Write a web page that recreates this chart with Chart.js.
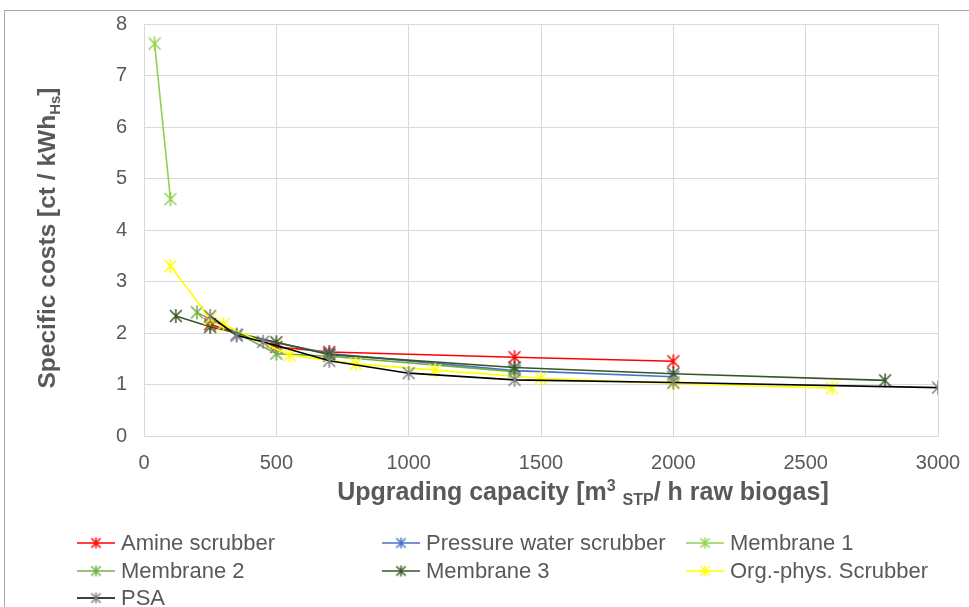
<!DOCTYPE html>
<html>
<head>
<meta charset="utf-8">
<script src="https://cdn.jsdelivr.net/npm/chart.js@4.4.1/dist/chart.umd.min.js"></script>
<style>
  html, body { margin: 0; padding: 0; background: #fff; overflow: hidden; }
  #frame { position: absolute; left: 4px; top: 10px; width: 1000px; height: 700px; border: 1px solid #a6a6a6; }
  #wrap { position: absolute; left: 0; top: 0; width: 969px; height: 607px; }
</style>
</head>
<body>
<div id="frame"></div>
<div id="wrap"><canvas id="costChart" width="969" height="607"></canvas></div>
<script>
// Values: x = upgrading capacity (m3 STP / h), y = specific costs (ct / kWh Hs)
const amineX = [250, 500, 700, 1400, 2000];
const amineY = [2.17, 1.73, 1.63, 1.53, 1.45];

const waterX = [350, 700, 1400, 2000];
const waterY = [1.97, 1.6, 1.27, 1.15];

const mem1X = [40, 100];
const mem1Y = [7.62, 4.6];

const mem2X = [200, 500, 700, 1400];
const mem2Y = [2.4, 1.6, 1.55, 1.25];

const mem3X = [120, 250, 500, 700, 1400, 2000, 2800];
const mem3Y = [2.33, 2.12, 1.82, 1.58, 1.33, 1.21, 1.08];

const orgX = [100, 250, 300, 550, 800, 1100, 1500, 2000, 2600];
const orgY = [3.3, 2.28, 2.17, 1.57, 1.4, 1.28, 1.12, 1.02, 0.93];

const psaX = [250, 350, 450, 700, 1000, 1400, 2000, 3000];
const psaY = [2.33, 1.95, 1.83, 1.46, 1.22, 1.09, 1.04, 0.94];

const seriesNames = ['Amine scrubber', 'Pressure water scrubber', 'Membrane 1',
                     'Membrane 2', 'Membrane 3', 'Org.-phys. Scrubber', 'PSA'];
const lineColors = ['#ff0000', '#4472c4', '#92d050', '#70ad47', '#375623', '#ffff00', '#000000'];
const markerColors = ['#ff0000', '#4472c4', '#92d050', '#70ad47', '#375623', '#ffff00', '#7f7f7f'];

const xTicks = [0, 500, 1000, 1500, 2000, 2500, 3000];
const yTicks = [0, 1, 2, 3, 4, 5, 6, 7, 8];

const yTitleParts = [['Specific costs [ct / kWh', 'n'], ['Hs', 'sub'], [']', 'n']];
const xTitleParts = [['Upgrading capacity [m', 'n'], ['3', 'sup'], [' ', 'n'], ['STP', 'sub'], ['/ h raw biogas]', 'n']];

const FONT = '"Liberation Sans", Arial, sans-serif';
const TEXT = '#595959';

// Excel style star marker: an X with a vertical bar
function starMarker(color, size) {
    const c = document.createElement('canvas');
    c.width = size;
    c.height = size;
    const g = c.getContext('2d');
    const m = size / 2, r = size / 2 - 1;
    g.strokeStyle = color;
    g.lineWidth = 1.5;
    g.beginPath();
    g.moveTo(m - r * 0.85, m - r * 0.85); g.lineTo(m + r * 0.85, m + r * 0.85);
    g.moveTo(m + r * 0.85, m - r * 0.85); g.lineTo(m - r * 0.85, m + r * 0.85);
    g.moveTo(m, m - r); g.lineTo(m, m + r);
    g.stroke();
    return c;
}

function pairs(xs, ys) {
    return xs.map((x, i) => ({ x: x, y: ys[i] }));
}

const allX = [amineX, waterX, mem1X, mem2X, mem3X, orgX, psaX];
const allY = [amineY, waterY, mem1Y, mem2Y, mem3Y, orgY, psaY];

const datasets = seriesNames.map((name, i) => ({
    label: name,
    data: pairs(allX[i], allY[i]),
    showLine: true,
    borderColor: lineColors[i],
    borderWidth: 1.6,
    pointStyle: starMarker(markerColors[i], 16),
    pointRadius: 8,
    order: seriesNames.length - i   // later series drawn on top, like Excel
}));

// draws text made of normal / sub / sup pieces centred on (0, 0), baseline below it
function drawRich(ctx, parts, size) {
    const big = 'bold ' + size + 'px ' + FONT;
    const small = 'bold ' + Math.round(size * 0.62) + 'px ' + FONT;
    let total = 0;
    parts.forEach(p => {
        ctx.font = p[1] === 'n' ? big : small;
        total += ctx.measureText(p[0]).width;
    });
    let x = -total / 2;
    ctx.textBaseline = 'alphabetic';
    ctx.textAlign = 'left';
    ctx.fillStyle = TEXT;
    parts.forEach(p => {
        ctx.font = p[1] === 'n' ? big : small;
        let dy = size * 0.36;
        if (p[1] === 'sub') dy += size * 0.2;
        if (p[1] === 'sup') dy -= size * 0.36;
        ctx.fillText(p[0], x, dy);
        x += ctx.measureText(p[0]).width;
    });
}

const extras = {
    id: 'extras',
    afterDraw(chart) {
        const ctx = chart.ctx;

        // axis titles
        ctx.save();
        ctx.translate(583, 491);
        drawRich(ctx, xTitleParts, 25);
        ctx.restore();

        ctx.save();
        ctx.translate(46, 238);
        ctx.rotate(-Math.PI / 2);
        drawRich(ctx, yTitleParts, 24.5);
        ctx.restore();

        // legend, three columns
        const colX = [77, 382, 686];
        const rowY = [543, 571, 598];
        ctx.save();
        ctx.font = '22px ' + FONT;
        ctx.textBaseline = 'middle';
        ctx.textAlign = 'left';
        seriesNames.forEach((name, i) => {
            const x = colX[i % 3];
            const y = rowY[Math.floor(i / 3)];
            ctx.strokeStyle = lineColors[i];
            ctx.lineWidth = 1.6;
            ctx.beginPath();
            ctx.moveTo(x, y);
            ctx.lineTo(x + 38, y);
            ctx.stroke();
            const mk = starMarker(markerColors[i], 13);
            ctx.drawImage(mk, x + 19 - 6.5, y - 6.5);
            ctx.fillStyle = TEXT;
            ctx.fillText(name, x + 44, y + 1);
        });
        ctx.restore();
    }
};

new Chart(document.getElementById('costChart'), {
    type: 'scatter',
    data: { datasets: datasets },
    plugins: [extras],
    options: {
        responsive: false,
        animation: false,
        layout: { padding: { top: 24, right: 31, bottom: 97, left: 0 } },
        plugins: { legend: { display: false }, tooltip: { enabled: false } },
        scales: {
            x: {
                type: 'linear',
                min: 0,
                max: 3000,
                afterBuildTicks: s => { s.ticks = xTicks.map(v => ({ value: v })); },
                afterFit: s => { s.height = 74; s.paddingLeft = 0; s.paddingRight = 0; },
                ticks: { color: TEXT, font: { family: FONT, size: 20 }, padding: 15, callback: v => String(v) },
                grid: { color: '#d9d9d9', drawTicks: false },
                border: { color: '#d9d9d9' }
            },
            y: {
                min: 0,
                max: 8,
                afterBuildTicks: s => { s.ticks = yTicks.map(v => ({ value: v })); },
                afterFit: s => { s.width = 144; s.paddingTop = 0; s.paddingBottom = 0; },
                ticks: { color: TEXT, font: { family: FONT, size: 20 }, padding: 17 },
                grid: { color: '#d9d9d9', drawTicks: false },
                border: { color: '#d9d9d9' }
            }
        }
    }
});
</script>
</body>
</html>
